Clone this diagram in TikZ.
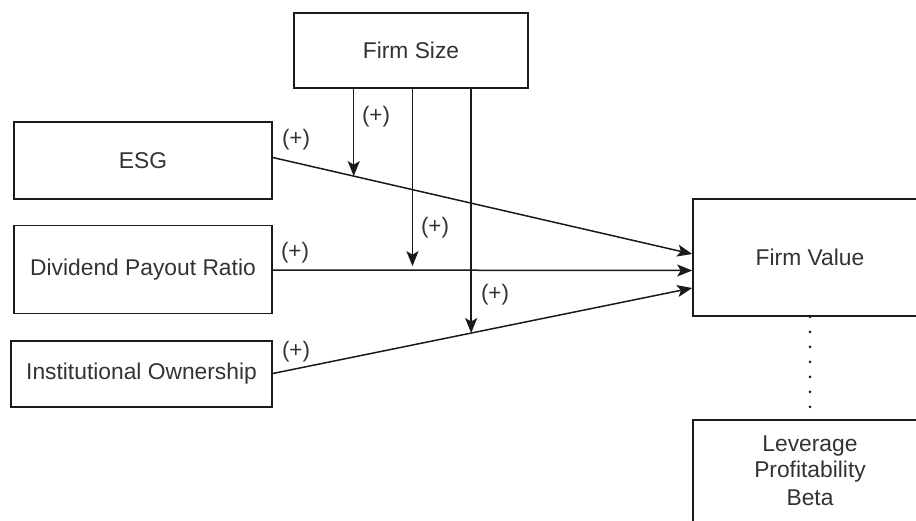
\documentclass[tikz,border=0pt]{standalone}
\usepackage{fontspec}
\setmainfont{Liberation Sans}
\usetikzlibrary{arrows.meta,calc}
\definecolor{inkline}{HTML}{1A1A1A}
\definecolor{inktext}{HTML}{333333}
\tikzset{
  box/.style={draw=inkline, line width=1.6pt, fill=white, inner sep=0pt,
    font=\fontsize{22.8}{27}\selectfont, text=inktext, align=center},
  link/.style={draw=inkline, line width=1.5pt,
    -{Stealth[length=15pt,width=12pt,inset=3.5pt]}},
  sign/.style={font=\fontsize{22.4}{26}\selectfont, text=inktext, inner sep=0pt},
  dots/.style={draw=inkline, line width=3pt, line cap=round,
    dash pattern=on 0pt off 15pt}
}
\begin{document}
\begin{tikzpicture}[x=1pt,y=-1pt]
  \useasboundingbox (0,0) rectangle (916,520);
  \clip (0,0) rectangle (916,520);

  % independent variables
  \node[box, minimum width=258pt, minimum height=77pt] (esg) at (143,160.5) {ESG};
  \node[box, minimum width=258pt, minimum height=88pt] (dpr) at (143,269.5) {Dividend Payout Ratio};
  \node[box, minimum width=261pt, minimum height=66pt] (io) at (141.5,374) {Institutional Ownership};

  % moderator
  \node[box, minimum width=234pt, minimum height=75pt] (fs) at (411,50.5) {Firm Size};

  % dependent variable and controls
  \node[box, minimum width=234pt, minimum height=117pt] (fv) at (810,257.5) {Firm Value};
  \node[box, minimum width=234pt, minimum height=150pt, anchor=north] (ctrl) at (810,419) {};
  \node[box, draw=none, fill=none, anchor=north] (ctrltext) at (810,435)
    {Leverage\\[-1pt]Profitability\\[1pt]Beta};

  % direct paths
  \coordinate (e1) at ($(esg.east)+(0,-3)$);
  \coordinate (f1) at ($(fv.west)+(0,-3.5)$);
  \coordinate (d1) at ($(dpr.east)+(0,0.5)$);
  \coordinate (f2) at ($(fv.west)+(0,13)$);
  \coordinate (i1) at ($(io.east)+(0,-0.5)$);
  \coordinate (f3) at ($(fv.west)+(0,30.5)$);
  \draw[link] (e1) -- (f1) coordinate[pos=0.193] (m1);
  \draw[link] (d1) -- (f2) coordinate[pos=0.333] (m2);
  \draw[link] (i1) -- (f3) coordinate[pos=0.473] (m3);

  % moderating paths
  \draw[link] (fs.south -| m1) -- (m1);
  \draw[link] (fs.south -| m2) -- ($(m2)+(0,-4)$);
  \draw[link] (fs.south -| m3) -- (m3);

  % control link
  \draw[dots] (fv.south) -- (ctrl.north);

  % signs
  \node[sign] (s1) at (296,140) {(+)};
  \node[sign] (s2) at (295,253) {(+)};
  \node[sign] (s3) at (296,352) {(+)};
  \node[sign] (s4) at (376,117) {(+)};
  \node[sign] (s5) at (435,228) {(+)};
  \node[sign] (s6) at (495,295) {(+)};
\end{tikzpicture}
\end{document}
